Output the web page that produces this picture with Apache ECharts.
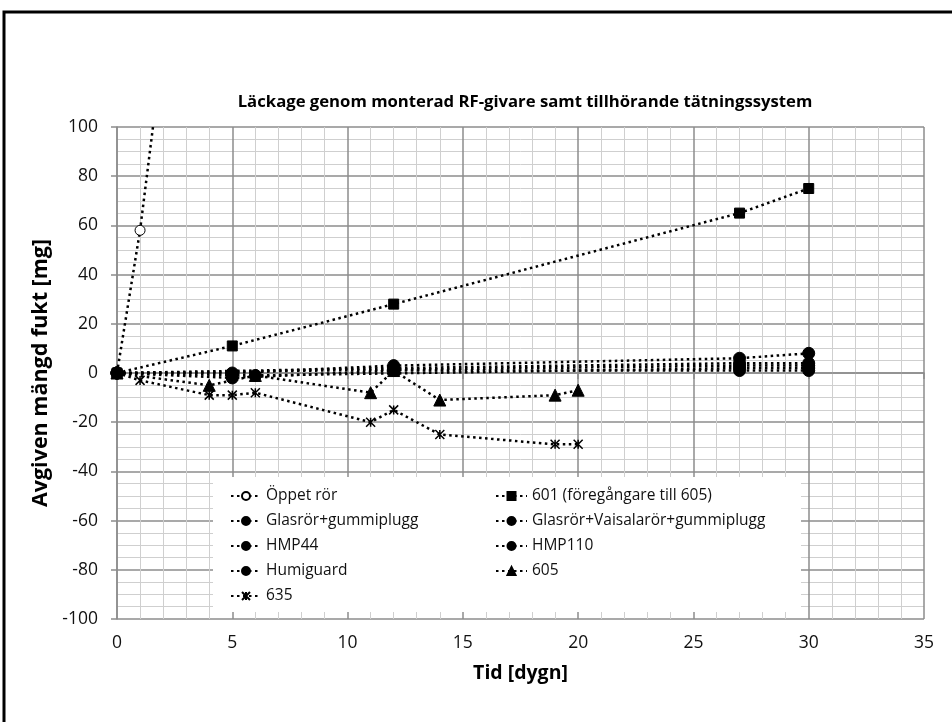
<!DOCTYPE html>
<html>
<head>
<meta charset="utf-8">
<script src="https://cdn.jsdelivr.net/npm/echarts@6/dist/echarts.min.js"></script>
<style>html,body{margin:0;padding:0;background:#fff;}#c{width:952px;height:722px;}</style>
</head>
<body>
<div id="c"></div>
<script>
// ---- Data (x = Tid [dygn], y = Avgiven mängd fukt [mg]) ----
const oppetRor = [[0, 0], [1, 58], [2, 133]];
const s601 = [[0, 0], [5, 11], [12, 28], [27, 65], [30, 75]];
const glasGummi = [[0, 0], [5, -2], [12, 1], [27, 1], [30, 1]];
const glasVaisala = [[0, 0], [5, 0], [12, 3], [27, 6], [30, 8]];
const hmp44 = [[0, 0], [12, 2], [27, 4], [30, 4]];
const hmp110 = [[0, 0], [27, 3], [30, 3]];
const humiguard = [[0, 0], [6, -1], [27, 2], [30, 2]];
const s605 = [[0, 0], [4, -5], [6, -1], [11, -8], [12, 1], [14, -11], [19, -9], [20, -7]];
const s635 = [[0, 0], [1, -3], [4, -9], [5, -9], [6, -8], [11, -20], [12, -15], [14, -25], [19, -29], [20, -29]];

const seriesNames = ['Öppet rör', '601 (föregångare till 605)', 'Glasrör+gummiplugg', 'Glasrör+Vaisalarör+gummiplugg', 'HMP44', 'HMP110', 'Humiguard', '605', '635'];
const legendCol1 = ['Öppet rör', 'Glasrör+gummiplugg', 'HMP44', 'Humiguard', '635'];
const legendCol2 = ['601 (föregångare till 605)', 'Glasrör+Vaisalarör+gummiplugg', 'HMP110', '605'];
const xTicks = [0, 5, 10, 15, 20, 25, 30, 35];
const yTicks = [-100, -80, -60, -40, -20, 0, 20, 40, 60, 80, 100];

const FONT = 'Open Sans';
const starPath = 'path://M0,0L10,10M10,0L0,10M5,0L5,10';

function mk(name, data, symbol, size, fill) {
  return {
    name: name, type: 'line', data: data,
    symbol: symbol, symbolSize: size, showSymbol: true,
    lineStyle: { color: '#000', width: 2.5, type: [2.5, 3.5] },
    itemStyle: { color: fill || '#000', borderColor: '#000', borderWidth: symbol === starPath ? 1.5 : 1 },
    emphasis: { disabled: true },
    animation: false,
    clip: true
  };
}

const chart = echarts.init(document.getElementById('c'));
chart.setOption({
  backgroundColor: '#fff',
  animation: false,
  title: {
    text: 'Läckage genom monterad RF-givare samt tillhörande tätningssystem',
    left: 520, top: 89, textAlign: 'center',
    textStyle: { fontFamily: FONT, fontWeight: 'bold', fontSize: 16.7, color: '#000' }
  },
  grid: { left: 117, right: 28, top: 127, bottom: 103, containLabel: false },
  xAxis: {
    type: 'value', min: xTicks[0], max: xTicks[xTicks.length - 1], interval: 5,
    name: 'Tid [dygn]', nameLocation: 'middle', nameGap: 44,
    nameTextStyle: { fontFamily: FONT, fontWeight: 'bold', fontSize: 19.5, color: '#000' },
    axisLine: { show: true, lineStyle: { color: '#8c8c8c', width: 1.5 } },
    axisTick: { show: true, length: 6, lineStyle: { color: '#8c8c8c', width: 1.5 } },
    axisLabel: { fontFamily: FONT, fontSize: 17.5, color: '#111', margin: 15 },
    splitLine: { show: true, lineStyle: { color: '#8c8c8c', width: 1.5 } },
    minorTick: { show: false, splitNumber: 5 },
    minorSplitLine: { show: true, lineStyle: { color: '#cfcfcf', width: 1 } }
  },
  yAxis: {
    type: 'value', min: yTicks[0], max: yTicks[yTicks.length - 1], interval: 20,
    name: 'Avgiven mängd fukt [mg]', nameLocation: 'middle', nameGap: 54, nameRotate: 90,
    nameTextStyle: { fontFamily: FONT, fontWeight: 'bold', fontSize: 21.5, color: '#000' },
    axisLine: { show: true, onZero: false, lineStyle: { color: '#8c8c8c', width: 1.5 } },
    axisTick: { show: true, length: 6, lineStyle: { color: '#8c8c8c', width: 1.5 } },
    axisLabel: { fontFamily: FONT, fontSize: 17.5, color: '#111', margin: 19 },
    splitLine: { show: true, lineStyle: { color: '#8c8c8c', width: 1.5 } },
    minorTick: { show: false, splitNumber: 4 },
    minorSplitLine: { show: true, lineStyle: { color: '#cfcfcf', width: 1 } }
  },
  legend: [
    {
      data: legendCol1, orient: 'vertical', left: 225, top: 483, itemGap: 9,
      itemWidth: 30, itemHeight: 10, selectedMode: false, z: 10,
      textStyle: { fontFamily: FONT, fontSize: 15.5, color: '#111' }
    },
    {
      data: legendCol2, orient: 'vertical', left: 490, top: 483, itemGap: 9,
      itemWidth: 31, itemHeight: 10, selectedMode: false, z: 10,
      textStyle: { fontFamily: FONT, fontSize: 15.5, color: '#111' }
    }
  ],
  graphic: [
    { type: 'rect', z: 5, shape: { x: 213, y: 477, width: 588, height: 135 }, style: { fill: '#fff' } },
    { type: 'rect', z: 100, shape: { x: 4, y: 12, width: 980, height: 740 }, style: { fill: 'none', stroke: '#000', lineWidth: 3 } }
  ],
  series: [
    mk(seriesNames[0], oppetRor, 'circle', 10, '#fff'),
    mk(seriesNames[1], s601, 'rect', 10),
    mk(seriesNames[2], glasGummi, 'circle', 12),
    mk(seriesNames[3], glasVaisala, 'circle', 12),
    mk(seriesNames[4], hmp44, 'circle', 12),
    mk(seriesNames[5], hmp110, 'circle', 12),
    mk(seriesNames[6], humiguard, 'circle', 12),
    mk(seriesNames[7], s605, 'triangle', 12),
    mk(seriesNames[8], s635, starPath, 9)
  ]
});
</script>
</body>
</html>
